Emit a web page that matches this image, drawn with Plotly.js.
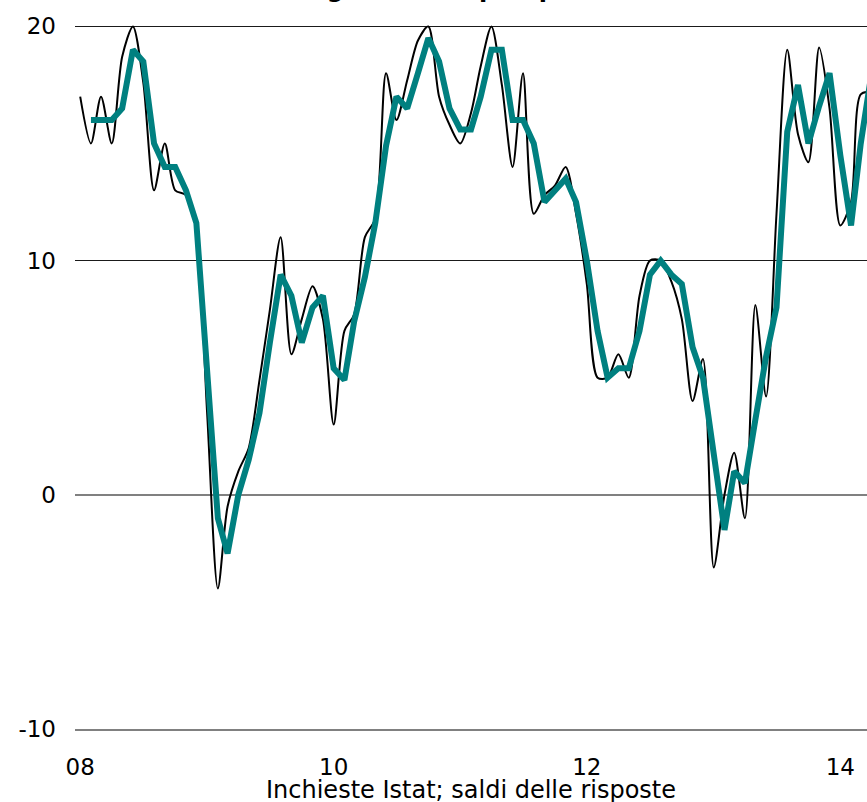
<!DOCTYPE html>
<html>
<head>
<meta charset="utf-8">
<script src="https://cdn.plot.ly/plotly-3.0.1.min.js"></script>
<style>
html,body{margin:0;padding:0;background:#fff;}
#chart{width:867px;height:802px;}
</style>
</head>
<body>
<div id="chart"></div>
<script>
// Monthly series, first month January 2008
var startYear = 2008;
var startMonth = 1;

// Thin black line: monthly balance
var monthly = [
  17.0, 15.0, 17.0, 15.0, 18.7, 20.0, 17.6, 13.0, 15.0, 13.0, 12.8, 11.3,
  3.5, -4.0, -0.5, 1.0, 2.0, 4.9, 7.9, 11.0, 6.0, 7.5, 8.9, 7.5,
  3.0, 7.0, 7.7, 11.0, 11.8, 18.0, 16.0, 17.7, 19.4, 20.0, 17.0, 15.8,
  15.0, 16.3, 18.3, 20.0, 17.5, 14.0, 18.0, 12.0, 12.8, 13.2, 14.0, 12.0,
  9.0, 5.0, 5.0, 6.0, 5.0, 8.5, 10.0, 10.0, 9.1, 7.5, 4.0, 5.8,
  -3.1, 0.0, 1.8, -1.0, 8.1, 4.2, 12.0, 19.0, 15.4, 14.2, 19.1, 16.5,
  11.5, 12.5, 17.1, 17.2
];

// Thick teal line: moving average, starts February 2008
var smoothedStartIndex = 1;
var smoothed = [
  16.0, 16.0, 16.0, 16.5, 19.0, 18.5, 15.0, 14.0, 14.0, 13.0, 11.6,
  5.3, -1.0, -2.5, 0.0, 1.5, 3.5, 6.5, 9.4, 8.5, 6.5, 8.0, 8.5,
  5.4, 4.9, 7.4, 9.3, 11.6, 14.9, 17.0, 16.5, 18.0, 19.5, 18.5, 16.5,
  15.6, 15.6, 17.0, 19.0, 19.0, 16.0, 16.0, 15.0, 12.5, 13.0, 13.5, 12.5,
  10.0, 7.0, 5.0, 5.4, 5.4, 7.0, 9.4, 10.0, 9.4, 9.0, 6.3, 5.0,
  1.8, -1.5, 1.0, 0.5, 3.2, 5.9, 8.0, 15.5, 17.5, 15.0, 16.6, 18.0,
  14.5, 11.5, 15.0, 18.0
];

var yTicks = [-10, 0, 10, 20];
var yTickLabels = ['-10', '0', '10', '20'];
var xTickDates = ['2008-01-01', '2010-01-01', '2012-01-01', '2014-01-01'];
var xTickLabels = ['08', '10', '12', '14'];

var chartTitle = 'Clima generale e prospettive';
var xAxisNote = 'Inchieste Istat; saldi delle risposte';

function monthDate(i) {
  var m = startMonth - 1 + i;
  var y = startYear + Math.floor(m / 12);
  var mm = (m % 12) + 1;
  return y + '-' + (mm < 10 ? '0' + mm : mm) + '-01';
}

var xMonthly = monthly.map(function (v, i) { return monthDate(i); });
var xSmoothed = smoothed.map(function (v, i) { return monthDate(i + smoothedStartIndex); });

var font = 'DejaVu Sans, Verdana, sans-serif';

var traces = [
  {
    x: xMonthly, y: monthly, type: 'scatter', mode: 'lines',
    line: {color: '#000000', width: 2, shape: 'spline', smoothing: 0.8},
    hoverinfo: 'x+y', showlegend: false, cliponaxis: true
  },
  {
    x: xSmoothed, y: smoothed, type: 'scatter', mode: 'lines',
    line: {color: '#008080', width: 6, shape: 'linear'},
    hoverinfo: 'x+y', showlegend: false
  }
];

var layout = {
  width: 867, height: 802,
  margin: {l: 75, r: 0, t: 25, b: 73, pad: 0},
  paper_bgcolor: '#ffffff', plot_bgcolor: '#ffffff',
  showlegend: false,
  font: {family: font, size: 23, color: '#000000'},
  xaxis: {
    type: 'date',
    range: ['2007-12-17', '2014-03-19'],
    tickmode: 'array', tickvals: xTickDates, ticktext: xTickLabels,
    showgrid: false, zeroline: false,
    showline: true, linecolor: '#808080', linewidth: 1.5,
    ticks: '', ticklabelstandoff: 17,
    tickfont: {family: font, size: 23, color: '#000000'},
    fixedrange: true
  },
  yaxis: {
    range: [-10, 20.06],
    tickmode: 'array', tickvals: yTicks, ticktext: yTickLabels,
    showgrid: true, gridcolor: '#1a1a1a', gridwidth: 1,
    zeroline: true, zerolinecolor: '#808080', zerolinewidth: 1.5,
    showline: false, ticks: '', ticklabelstandoff: 18,
    tickfont: {family: font, size: 23, color: '#000000'},
    fixedrange: true
  },
  annotations: [
    {
      text: '<b>' + chartTitle + '</b>',
      xref: 'paper', yref: 'paper', x: 0.46, y: 1, xanchor: 'center', yanchor: 'bottom',
      yshift: 20, showarrow: false,
      font: {family: font, size: 24, color: '#000000'}
    },
    {
      text: xAxisNote,
      xref: 'paper', yref: 'paper', x: 0.5, y: 0, xanchor: 'center', yanchor: 'top',
      yshift: -45, showarrow: false,
      font: {family: font, size: 24, color: '#000000'}
    }
  ]
};

Plotly.newPlot('chart', traces, layout, {displayModeBar: false, staticPlot: true});
</script>
</body>
</html>
